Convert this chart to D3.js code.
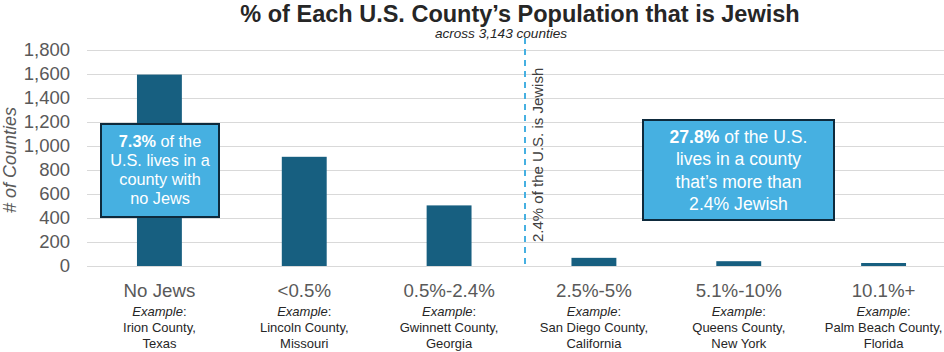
<!DOCTYPE html>
<html>
<head>
<meta charset="utf-8">
<style>
  body { margin: 0; background: #fff; }
  svg { font-family: "Liberation Sans", Arial, sans-serif; display: block; }
</style>
</head>
<body>
<script src="https://d3js.org/d3.v7.min.js"></script>
<script>
// chart data
var categories = ['No Jews', '<0.5%', '0.5%-2.4%', '2.5%-5%', '5.1%-10%', '10.1%+']
var counts = [1595, 910, 505, 68, 40, 25]
var exampleCounty = ['Irion County,', 'Lincoln County,', 'Gwinnett County,', 'San Diego County,', 'Queens County,', 'Palm Beach County,']
var exampleState = ['Texas', 'Missouri', 'Georgia', 'California', 'New York', 'Florida']
var yTicks = [0, 200, 400, 600, 800, 1000, 1200, 1400, 1600, 1800]

var svgWidth = 944
var svgHeight = 352
// plot area (note: "top" is reserved on window, so use other names)
var plotLeft = 87, plotRight = 956, plotTop = 50, plotBottom = 266

var barColor = '#175f80'
var calloutFill = '#46b0e1'
var calloutStroke = '#0e2a3c'

var svg = d3.select('body').append('svg')
  .attr('width', svgWidth)
  .attr('height', svgHeight)

var x = d3.scaleBand().domain(categories).range([plotLeft, plotRight]).padding(0)
var y = d3.scaleLinear().domain([0, 1800]).range([plotBottom, plotTop])

// gridlines
svg.append('g')
  .selectAll('line')
  .data(yTicks)
  .enter().append('line')
  .attr('x1', plotLeft)
  .attr('x2', svgWidth)
  .attr('y1', function(d) { return Math.round(y(d)) + 0.5 })
  .attr('y2', function(d) { return Math.round(y(d)) + 0.5 })
  .attr('stroke', '#d9d9d9')
  .attr('stroke-width', 1)

// y axis labels
var yAxis = svg.append('g')
  .attr('transform', 'translate(' + plotLeft + ',0)')
  .call(d3.axisLeft(y).tickValues(yTicks).tickFormat(d3.format(',')).tickSize(0).tickPadding(17))
yAxis.select('.domain').remove()
yAxis.selectAll('text')
  .attr('font-size', 18.5)
  .attr('fill', '#595959')
  .attr('font-family', '"Liberation Sans", Arial, sans-serif')

svg.append('text')
  .attr('transform', 'translate(16,' + ((plotTop + plotBottom) / 2 + 2) + ') rotate(-90)')
  .attr('text-anchor', 'middle')
  .attr('font-size', 18)
  .attr('font-style', 'italic')
  .attr('fill', '#595959')
  .text('# of Counties')

// bars
var barW = x.bandwidth() * 0.31
svg.append('g')
  .selectAll('rect')
  .data(counts)
  .enter().append('rect')
  .attr('x', function(d, i) { return x(categories[i]) + x.bandwidth() / 2 - barW / 2 })
  .attr('y', function(d) { return y(d) })
  .attr('width', barW)
  .attr('height', function(d) { return y(0) - y(d) })
  .attr('fill', barColor)

// category labels
var lab = svg.append('g')
  .selectAll('g')
  .data(categories)
  .enter().append('g')
  .attr('transform', function(d) { return 'translate(' + (x(d) + x.bandwidth() / 2) + ',0)' })
  .attr('text-anchor', 'middle')

lab.append('text')
  .attr('y', 297)
  .attr('font-size', 18.7)
  .attr('fill', '#595959')
  .text(function(d) { return d })

var ex = lab.append('text')
  .attr('y', 316)
  .attr('font-size', 13)
  .attr('fill', '#262626')
ex.append('tspan').attr('font-style', 'italic').text('Example')
ex.append('tspan').text(':')

lab.append('text')
  .attr('y', 332)
  .attr('font-size', 13)
  .attr('fill', '#262626')
  .text(function(d, i) { return exampleCounty[i] })

lab.append('text')
  .attr('y', 348)
  .attr('font-size', 13)
  .attr('fill', '#262626')
  .text(function(d, i) { return exampleState[i] })

// dashed threshold line
var dashX = x(categories[3]) + 3.5
svg.append('line')
  .attr('x1', dashX).attr('x2', dashX)
  .attr('y1', 38).attr('y2', plotBottom)
  .attr('stroke', calloutFill)
  .attr('stroke-width', 2)
  .attr('stroke-dasharray', '6,5')

svg.append('text')
  .attr('transform', 'translate(' + (dashX + 17.5) + ',242) rotate(-90)')
  .attr('font-size', 15)
  .attr('fill', '#404040')
  .text('2.4% of the U.S. is Jewish')

// title
svg.append('text')
  .attr('x', 520).attr('y', 21.5)
  .attr('text-anchor', 'middle')
  .attr('font-size', 23.5)
  .attr('font-weight', 'bold')
  .attr('fill', '#262626')
  .text('% of Each U.S. County\u2019s Population that is Jewish')

svg.append('text')
  .attr('x', 501).attr('y', 38)
  .attr('text-anchor', 'middle')
  .attr('font-size', 13.6)
  .attr('font-style', 'italic')
  .attr('fill', '#262626')
  .text('across 3,143 counties')

// callouts
function callout(bx, by, bw, bh, fs, lh, firstY, lines) {
  var g = svg.append('g')
  g.append('rect')
    .attr('x', bx).attr('y', by)
    .attr('width', bw).attr('height', bh)
    .attr('fill', calloutFill)
    .attr('stroke', calloutStroke)
    .attr('stroke-width', 2)
  lines.forEach(function(l, i) {
    var t = g.append('text')
      .attr('x', bx + bw / 2)
      .attr('y', firstY + i * lh)
      .attr('text-anchor', 'middle')
      .attr('font-size', fs)
      .attr('fill', '#fff')
    l.forEach(function(part) {
      t.append('tspan')
        .attr('font-weight', part[1] ? 'bold' : 'normal')
        .text(part[0])
    })
  })
}

callout(101, 124, 118, 93, 16.3, 19, 147, [
  [['7.3%', true], [' of the', false]],
  [['U.S. lives in a', false]],
  [['county with', false]],
  [['no Jews', false]]
])

callout(643, 120, 191, 100, 17.6, 22.3, 143, [
  [['27.8%', true], [' of the U.S.', false]],
  [['lives in a county', false]],
  [['that\u2019s more than', false]],
  [['2.4% Jewish', false]]
])
</script>
</body>
</html>
